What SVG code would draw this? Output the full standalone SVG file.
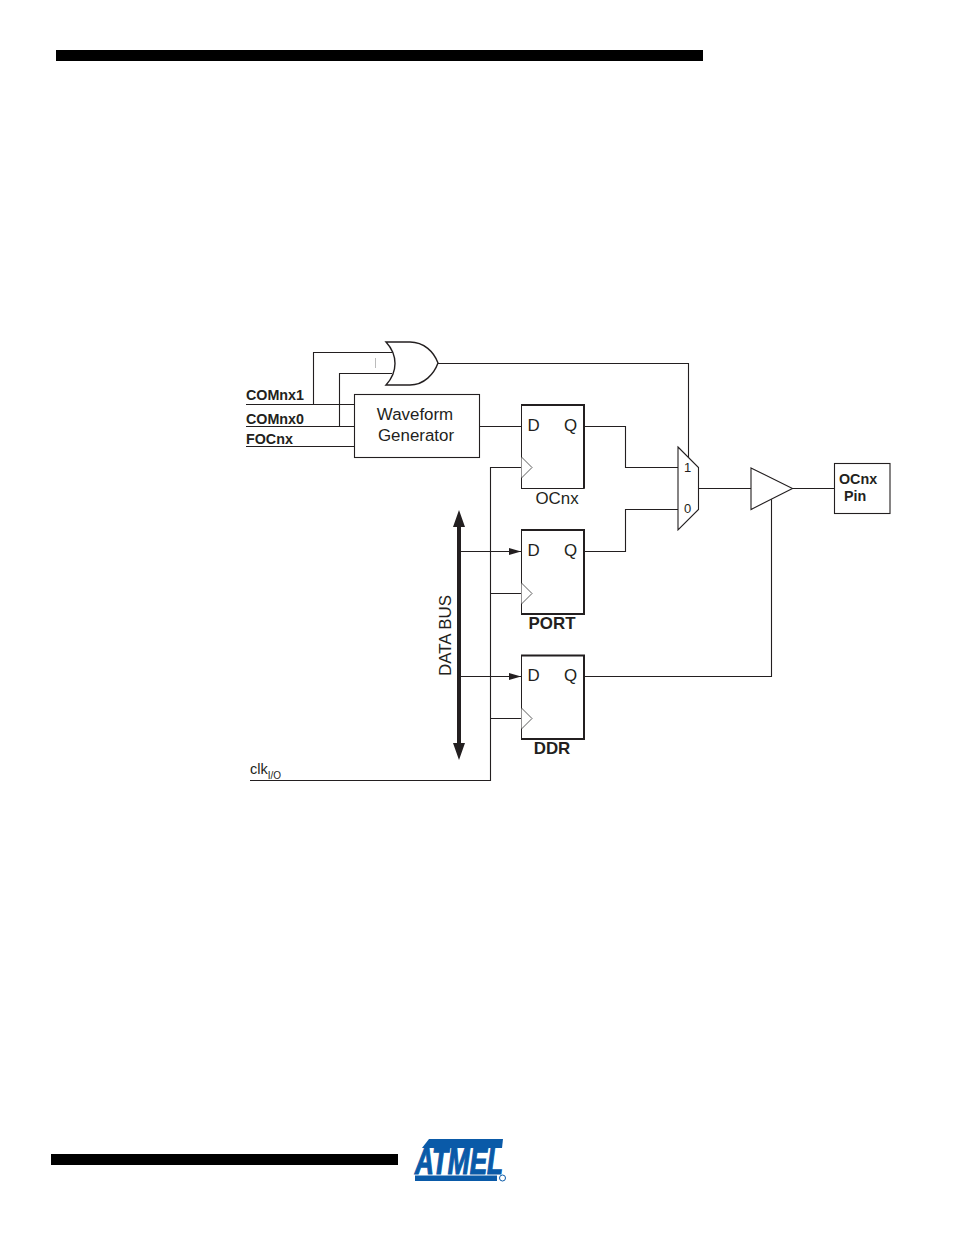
<svg xmlns="http://www.w3.org/2000/svg" width="954" height="1235" viewBox="0 0 954 1235">
<style>
text{font-family:"Liberation Sans",Arial,sans-serif;fill:#231f20}
.w{fill:none;stroke:#231f20;stroke-width:1.1}
.box{fill:#fff;stroke:#231f20;stroke-width:1.1}
.ff{fill:#fff;stroke:#231f20;stroke-width:1}
.thick{fill:none;stroke:#231f20;stroke-width:2}
.clk{fill:#fff;stroke:#333;stroke-width:.8}
.t16{font-size:16.900px}
.b14{font-size:14.300px;font-weight:bold}
.b16{font-size:16.900px;font-weight:bold}
</style>
<defs>
<marker id="tip" markerUnits="userSpaceOnUse" markerWidth="13" markerHeight="8" refX="12" refY="4" orient="auto"><path d="M0,0.5L12,4L0,7.5Z" fill="#231f20"/></marker>
</defs>
<rect x="56" y="50" width="647" height="11" fill="#000"/>
<rect x="51" y="1154" width="347" height="11" fill="#000"/>
<g id="connectors">
<path class="w" d="M246,404.500H355M313.500,404.500V352.500H395"/>
<path class="w" d="M246,426.500H355M339.500,426.500V373.500H392"/>
<path class="w" d="M246,446.500H355"/>
<path class="w" d="M437,363.500H688.500V460"/>
<path class="w" d="M479,426.500H522"/>
<path class="w" d="M584,426.500H625.500V467.500H678"/>
<path class="w" d="M584,551.500H625.500V509.500H678"/>
<path class="w" d="M698,488.500H751"/>
<path class="w" d="M792,488.500H835"/>
<path class="w" d="M584,676.500H771.500V499"/>
<path class="w" d="M250,780.500H490.500V467.500H522M490.500,593.500H522M490.500,718.500H522"/>
<path class="w" d="M460,551.500H521" marker-end="url(#tip)"/>
<path class="w" d="M460,676.500H521" marker-end="url(#tip)"/>
<path d="M459,510L465,527H461V743H465L459,760L453,743H457V527H453Z" fill="#231f20"/>
<path d="M375.500,358V368" stroke="#bbb" stroke-width="1" fill="none"/>
</g>
<g id="or-gate"><path d="M386,342H410C424,342 434,352 438,363C434,374 424,385 410,385H386C398,372 398,355 386,342Z" fill="#fff" stroke="#231f20" stroke-width="1.4"/></g>
<g id="waveform-generator"><rect class="box" x="354.500" y="394.500" width="125" height="63"/><text class="t16" x="415" y="420" text-anchor="middle">Waveform</text><text class="t16" x="416" y="441" text-anchor="middle">Generator</text></g>
<g id="ocnx-ff"><rect class="ff" x="521.500" y="405" width="62.500" height="83.500"/><path class="thick" d="M521,405H584V488.500"/><path class="clk" d="M521.500,457L532,467.500L521.500,478"/><text class="t16" x="527.500" y="431">D</text><text class="t16" x="564" y="431">Q</text><text class="t16" x="557" y="504" text-anchor="middle">OCnx</text></g>
<g id="port-ff"><rect class="ff" x="521.500" y="530" width="62.500" height="84"/><path class="thick" d="M521,530H584V614H521"/><path class="clk" d="M521.500,583L532,593.500L521.500,604"/><text class="t16" x="527.500" y="556">D</text><text class="t16" x="564" y="556">Q</text><text class="b16" x="552" y="629" text-anchor="middle">PORT</text></g>
<g id="ddr-ff"><rect class="ff" x="521.500" y="655.500" width="62.500" height="84"/><path class="thick" d="M521,655.500H584V739H521"/><path class="clk" d="M521.500,708L532,718.500L521.500,729"/><text class="t16" x="527.500" y="681">D</text><text class="t16" x="564" y="681">Q</text><text class="b16" x="552" y="754" text-anchor="middle">DDR</text></g>
<g id="mux"><path class="box" d="M678,447L698.500,467.500V509.500L678,530Z" stroke-width="1.4"/><text x="687.500" y="472" font-size="13" text-anchor="middle">1</text><text x="687.500" y="513" font-size="13" text-anchor="middle">0</text></g>
<g id="buffer"><path class="box" d="M751,468L792.500,488.500L751,509.500Z" stroke-width="1.4"/></g>
<g id="ocnx-pin"><rect class="box" x="834.500" y="463.500" width="55.500" height="50"/><text class="b14" x="839" y="484">OCnx</text><text class="b14" x="844" y="501">Pin</text></g>
<g id="labels">
<text class="b14" x="246" y="400">COMnx1</text>
<text class="b14" x="246" y="424">COMnx0</text>
<text class="b14" x="246" y="444">FOCnx</text>
<text x="250" y="774" font-size="14.500">clk<tspan font-size="10" dy="5">I/O</tspan></text>
<text class="t16" transform="translate(451,676) rotate(-90)" textLength="81" lengthAdjust="spacingAndGlyphs">DATA BUS</text>
</g>
<g id="logo" fill="#0a5aa8">
<path d="M429,1139H503L502,1148H422Z"/>
<path d="M415,1175.500H497V1181H415Z"/>
<text x="415" y="1173.500" font-size="36" font-weight="bold" font-style="italic" textLength="88" lengthAdjust="spacingAndGlyphs" style="fill:#0a5aa8;stroke:#0a5aa8;stroke-width:1.2">ATMEL</text>
<circle cx="502.500" cy="1178" r="3" fill="none" stroke="#0a5aa8" stroke-width="1"/>
</g>
</svg>
